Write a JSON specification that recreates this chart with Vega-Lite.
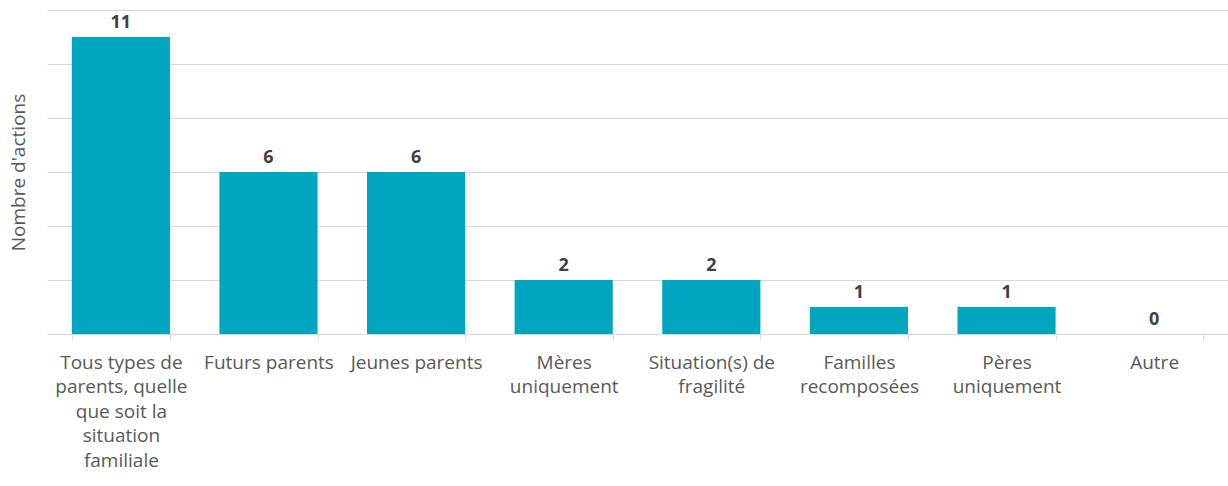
{
  "$schema": "https://vega.github.io/schema/vega-lite/v6.json",
  "autosize": "none",
  "width": 1181,
  "height": 324,
  "padding": {"left": 47, "top": 10, "right": 0, "bottom": 152},
  "background": "white",
  "config": {
    "view": {"stroke": null},
    "font": "Open Sans"
  },
  "data": {
    "values": [
      {"categorie": "Tous types de parents, quelle que soit la situation familiale", "actions": 11},
      {"categorie": "Futurs parents", "actions": 6},
      {"categorie": "Jeunes parents", "actions": 6},
      {"categorie": "Mères uniquement", "actions": 2},
      {"categorie": "Situation(s) de fragilité", "actions": 2},
      {"categorie": "Familles recomposées", "actions": 1},
      {"categorie": "Pères uniquement", "actions": 1},
      {"categorie": "Autre", "actions": 0}
    ]
  },
  "encoding": {
    "x": {
      "field": "categorie",
      "type": "nominal",
      "sort": null,
      "scale": {"paddingInner": 0.335, "paddingOuter": 0.168},
      "axis": {
        "title": null,
        "labelAngle": 0,
        "labelFont": "Open Sans",
        "labelFontSize": 19,
        "labelColor": "#595959",
        "labelLineHeight": 24.5,
        "labelPadding": 13,
        "labelBaseline": "top",
        "labelLimit": 200,
        "tickBand": "extent",
        "tickSize": 6,
        "tickColor": "#d9d9d9",
        "domainColor": "#d9d9d9",
        "grid": false,
        "labelExpr": "datum.value == 'Tous types de parents, quelle que soit la situation familiale' ? ['Tous types de', 'parents, quelle', 'que soit la', 'situation', 'familiale'] : datum.value == 'Mères uniquement' ? ['Mères', 'uniquement'] : datum.value == 'Situation(s) de fragilité' ? ['Situation(s) de', 'fragilité'] : datum.value == 'Familles recomposées' ? ['Familles', 'recomposées'] : datum.value == 'Pères uniquement' ? ['Pères', 'uniquement'] : datum.value"
      }
    },
    "y": {
      "field": "actions",
      "type": "quantitative",
      "scale": {"domain": [0, 12], "nice": false},
      "axis": {
        "title": "Nombre d'actions",
        "titleFont": "Open Sans",
        "titleFontSize": 19,
        "titleFontWeight": "normal",
        "titleColor": "#595959",
        "titleX": -29,
        "titleY": 162,
        "titleAnchor": "middle",
        "titleBaseline": "middle",
        "labels": false,
        "ticks": false,
        "domain": false,
        "values": [2, 4, 6, 8, 10, 12],
        "gridColor": "#d9d9d9",
        "gridWidth": 1
      }
    }
  },
  "layer": [
    {
      "mark": {"type": "bar", "color": "#00A6C0"}
    },
    {
      "mark": {
        "type": "text",
        "baseline": "bottom",
        "dy": -5,
        "font": "Open Sans",
        "fontSize": 18,
        "fontWeight": "bold",
        "color": "#404040"
      },
      "encoding": {
        "text": {"field": "actions", "type": "quantitative"}
      }
    }
  ]
}
